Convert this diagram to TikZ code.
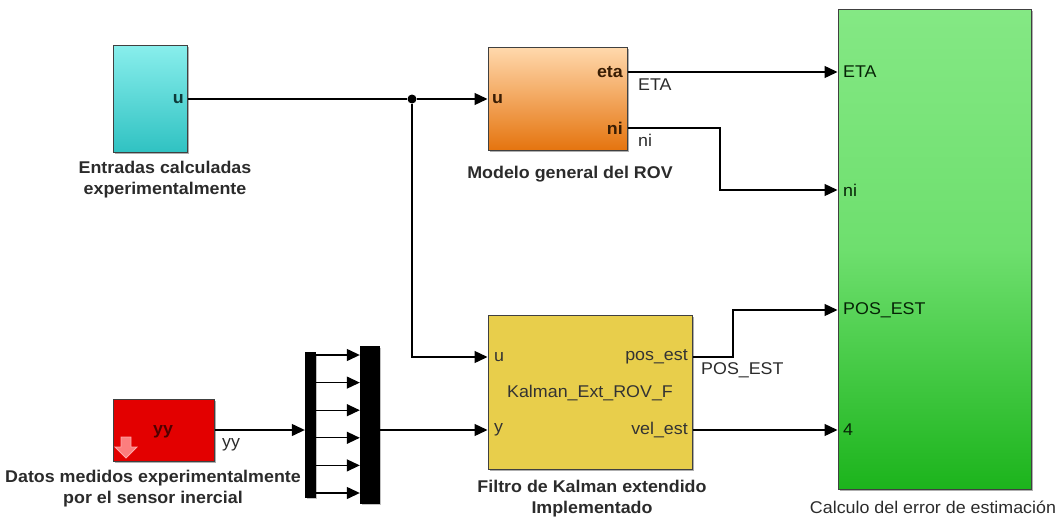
\documentclass[tikz,border=0pt]{standalone}
\usepackage{fontspec}
\setmainfont{Liberation Sans}[FakeStretch=1.05]
\usetikzlibrary{arrows.meta,shadows}
\definecolor{cyanT}{HTML}{88EEEC}
\definecolor{cyanB}{HTML}{30C2C2}
\definecolor{orT}{HTML}{FFD8AC}
\definecolor{orB}{HTML}{E5740E}
\definecolor{yel}{HTML}{E8CE4B}
\definecolor{redb}{HTML}{E30000}
\definecolor{grT}{HTML}{84E884}
\definecolor{grM}{HTML}{6EDF6E}
\definecolor{grB}{HTML}{1CB41C}
\definecolor{ttlc}{HTML}{2B2B2B}
\begin{document}
\begin{tikzpicture}[x=1pt,y=-1pt,
  font=\fontsize{17}{21}\selectfont,
  blk/.style={draw=black!75, line width=1pt, inner sep=0pt,
    drop shadow={shadow xshift=1.5pt,shadow yshift=-1.5pt,opacity=0.45,fill=black!70}},
  bar/.style={fill=black, draw=black, inner sep=0pt,
    drop shadow={shadow xshift=1.5pt,shadow yshift=-1.5pt,opacity=0.35,fill=black!70}},
  wire/.style={line width=1.3pt, -{Triangle[length=13pt,width=12pt]}},
  plainwire/.style={line width=1.3pt},
  ttl/.style={font=\bfseries\fontsize{17}{21}\selectfont, text=ttlc, align=center, inner sep=0pt},
  lbl/.style={inner sep=0pt},
  dot/.style={circle, fill=black, inner sep=0pt, minimum size=9pt}
]
\useasboundingbox (0,0) rectangle (1064,519);

% blocks
\node[blk, top color=cyanT, bottom color=cyanB, minimum width=74pt, minimum height=106pt] (cyan) at (150,99) {};
\node[blk, top color=orT, bottom color=orB, minimum width=139pt, minimum height=103pt] (orange) at (557.5,99) {};
\node[blk, fill=yel, minimum width=204pt, minimum height=154pt] (yellow) at (590,392) {};
\node[blk, fill=redb, minimum width=101pt, minimum height=62pt] (red) at (163.5,430) {};
\node[blk, top color=grT, bottom color=grB, middle color=grM, minimum width=193pt, minimum height=479pt] (green) at (934.5,249.5) {};
\node[bar, minimum width=10pt, minimum height=145pt] (demux) at (310,424.5) {};
\node[bar, minimum width=19pt, minimum height=157pt] (mux) at (369.5,424.5) {};

% red block icon
\fill[red!45!white, draw=red!30!white, line width=0.8pt, opacity=0.9]
  (121,437) -- (131,437) -- (131,447) -- (137,447) -- (126,458) -- (115,447) -- (121,447) -- cycle;

% port labels
\node[lbl, anchor=east, font=\bfseries\fontsize{17}{21}\selectfont, text=cyanB!30!black] (cu) at (184,99) {u};
\node[lbl, anchor=east, font=\bfseries\fontsize{17}{21}\selectfont, text=orB!25!black] (oeta) at (623,72) {eta};
\node[lbl, anchor=east, font=\bfseries\fontsize{17}{21}\selectfont, text=orB!25!black] (oni) at (623,128) {ni};
\node[lbl, anchor=west, font=\bfseries\fontsize{17}{21}\selectfont, text=orB!25!black] (ou) at (492,99) {u};
\node[lbl, anchor=west, text=black!80] (yu) at (494,357) {u};
\node[lbl, anchor=west, text=black!80] (yy) at (494,430) {y};
\node[lbl, anchor=east, text=black!80] (ypos) at (688,357) {pos\_est};
\node[lbl, anchor=east, text=black!80] (yvel) at (688,430) {vel\_est};
\node[lbl, text=black!80] (yname) at (590,393) {Kalman\_Ext\_ROV\_F};
\node[lbl, anchor=west, text=grB!20!black] (geta) at (843,72) {ETA};
\node[lbl, anchor=west, text=grB!20!black] (gni) at (843,190) {ni};
\node[lbl, anchor=west, text=grB!20!black] (gpos) at (843,310) {POS\_EST};
\node[lbl, anchor=west, text=grB!20!black] (g4) at (843,430) {4};
\node[lbl, font=\bfseries\fontsize{17}{21}\selectfont, text=redb!35!black] (ryy) at (163,432) {yy};

% signal labels
\node[lbl, anchor=west, text=ttlc] (sETA) at (638,85) {ETA};
\node[lbl, anchor=west, text=ttlc] (sni) at (638,140) {ni};
\node[lbl, anchor=west, text=ttlc] (sPOS) at (701,370) {POS\_EST};
\node[lbl, anchor=west, text=ttlc] (syy) at (222,445) {yy};

% titles
\node[ttl] (t1) at (165,180) {Entradas calculadas\\experimentalmente};
\node[ttl] (t2) at (570,174) {Modelo general del ROV};
\node[ttl] (t3) at (153,489) {Datos medidos experimentalmente\\por el sensor inercial};
\node[ttl] (t4) at (592,499) {Filtro de Kalman extendido\\Implementado};
\node[lbl, text=ttlc] (t5) at (933,507) {Calculo del error de estimación};

% junction
\node[dot] (j) at (412,99) {};
\coordinate (jy) at (412,357);

% connectors
\draw[plainwire] (cyan.east) -- (j);
\draw[wire] (j) -- (orange.west);
\draw[wire] (j) -- (jy) -- (yellow.west |- jy);
\draw[wire] (orange.east |- oeta) -- (green.west |- geta);
\draw[wire] (orange.east |- oni) -- (720,128) -- (720,190) -- (green.west |- gni);
\draw[wire] (yellow.east |- ypos) -- (733,357) -- (733,310) -- (green.west |- gpos);
\draw[wire] (yellow.east |- yvel) -- (green.west |- g4);
\draw[wire] (red.east) -- (demux.west |- red.east);
\draw[wire] (mux.east |- red.east) -- (yellow.west |- yy);
\foreach \yy in {355,382.6,410.2,437.8,465.4,493}{
  \draw[wire] (demux.east |- 0,\yy) -- (mux.west |- 0,\yy);
}
\end{tikzpicture}
\end{document}
